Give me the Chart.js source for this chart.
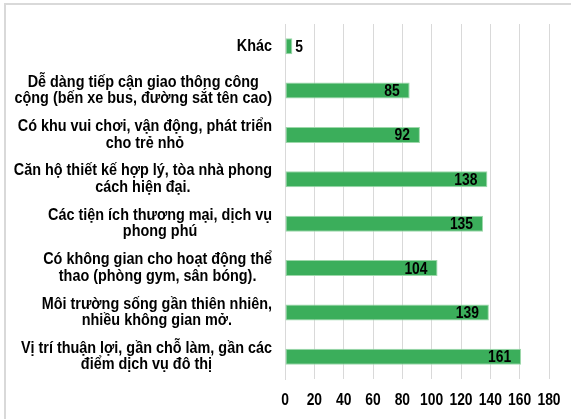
<!DOCTYPE html>
<html>
<head>
<meta charset="utf-8">
<script src="https://cdn.jsdelivr.net/npm/chart.js@4"></script>
<style>
  html, body { margin: 0; padding: 0; background: #fff; overflow: hidden; }
  #frame {
    position: absolute; left: 4px; top: 3px; width: 700px; height: 600px;
    border-left: 2px solid #d9d9d9; border-top: 2px solid #d9d9d9;
  }
  #chart { position: absolute; left: 0; top: 0; }
</style>
</head>
<body>
<div id="frame"></div>
<canvas id="chart" width="571" height="419"></canvas>
<script>
// Categories, top to bottom
const categories = [
    ["Khác"],
    ["Dễ dàng tiếp cận giao thông công", "cộng (bến xe bus, đường sắt tên cao)"],
    ["Có khu vui chơi, vận động, phát triển", "cho trẻ nhỏ"],
    ["Căn hộ thiết kế hợp lý, tòa nhà phong", "cách hiện đại."],
    ["Các tiện ích thương mại, dịch vụ", "phong phú"],
    ["Có không gian cho hoạt động thể", "thao (phòng gym, sân bóng)."],
    ["Môi trường sống gần thiên nhiên,", "nhiều không gian mở."],
    ["Vị trí thuận lợi, gần chỗ làm, gần các", "điểm dịch vụ đô thị"]
];
const counts = [5, 85, 92, 138, 135, 104, 139, 161];
const xTicks = [0, 20, 40, 60, 80, 100, 120, 140, 160, 180];

const FONT = '"Liberation Sans", Arial, sans-serif';

// text squeezed horizontally, like the narrow font of the original
function fillNarrow(ctx, text, x, y, align, sx) {
    ctx.save();
    ctx.translate(x, y);
    ctx.scale(sx, 1);
    ctx.textAlign = align;
    ctx.fillText(text, 0, 0);
    ctx.restore();
}

const labelPlugin = {
    id: "labelPlugin",
    afterDraw(chart) {
        const ctx = chart.ctx;
        const yScale = chart.scales.y;
        const xScale = chart.scales.x;
        ctx.save();
        ctx.fillStyle = "#000";
        ctx.textBaseline = "middle";

        // category labels: lines centered on each other, block right-aligned
        const sxLab = 0.9;
        ctx.font = "bold 16px " + FONT;
        const lineH = 16.5;
        categories.forEach((lines, i) => {
            const yc = yScale.getPixelForTick(i);
            const maxW = Math.max(...lines.map(l => ctx.measureText(l).width)) * sxLab;
            const xc = 272 - maxW / 2;
            const y0 = yc - (lines.length - 1) * lineH / 2;
            lines.forEach((l, j) => fillNarrow(ctx, l, xc, y0 + j * lineH, "center", sxLab));
        });

        // value labels at the bar ends
        ctx.font = "bold 16.5px " + FONT;
        const meta = chart.getDatasetMeta(0);
        meta.data.forEach((bar, i) => {
            if (counts[i] < 20) {
                fillNarrow(ctx, String(counts[i]), bar.x + 3, bar.y + 1, "left", 0.84);
            } else {
                fillNarrow(ctx, String(counts[i]), bar.x - 10, bar.y + 1, "right", 0.84);
            }
        });

        // x tick labels
        ctx.font = "bold 16.5px " + FONT;
        xTicks.forEach(v => {
            fillNarrow(ctx, String(v), xScale.getPixelForValue(v), 400, "center", 0.84);
        });
        ctx.restore();
    }
};

const ctx = document.getElementById("chart").getContext("2d");
const chart = new Chart(ctx, {
    type: "bar",
    data: {
        labels: categories.map(c => c.join(" ")),
        datasets: [{
            data: counts,
            backgroundColor: "#3bae5b",
            borderColor: "#9dd8aa",
            borderWidth: 1,
            borderSkipped: false,
            barPercentage: 0.36,
            categoryPercentage: 1,
        }],
    },
    options: {
        indexAxis: "y",
        responsive: false,
        animation: false,
        layout: { padding: { top: 24, right: 22, bottom: 0, left: 0 } },
        plugins: {
            legend: { display: false },
            tooltip: { enabled: false },
        },
        scales: {
            x: {
                min: 0,
                max: 180,
                afterBuildTicks: (scale) => {
                    scale.ticks = xTicks.map(v => ({ value: v }));
                },
                grid: { color: "#d9d9d9", lineWidth: 1, drawTicks: false },
                border: { display: false },
                ticks: { display: false },
                afterFit: (scale) => { scale.height = 40; },
            },
            y: {
                grid: { display: false },
                border: { display: true, color: "#d9d9d9" },
                ticks: { display: false },
                afterFit: (scale) => { scale.width = 285; },
            },
        },
    },
    plugins: [labelPlugin],
});
</script>
</body>
</html>
